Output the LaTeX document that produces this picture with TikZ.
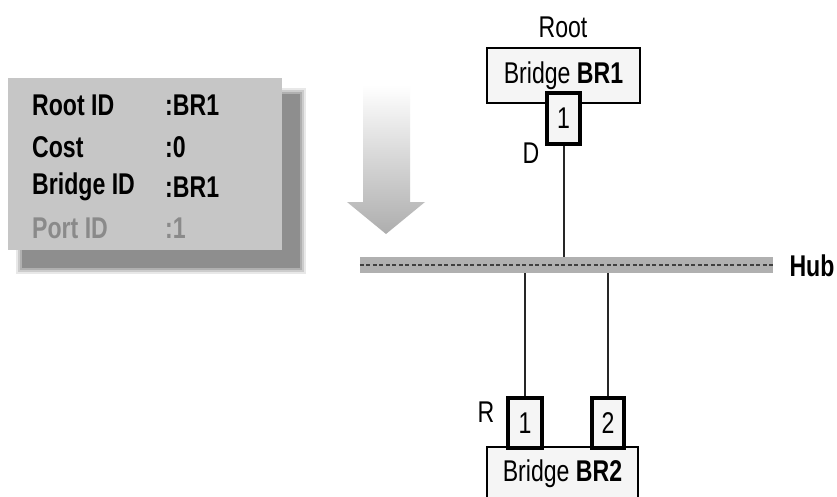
\documentclass[tikz,border=0pt]{standalone}
\usepackage{fontspec}
\setmainfont{Liberation Sans}[FakeStretch=0.77]
\definecolor{boxgray}{HTML}{C6C6C6}
\definecolor{shadowgray}{HTML}{8E8E8E}
\definecolor{paper}{HTML}{F5F5F5}
\definecolor{hubgray}{HTML}{B0B0B0}
\definecolor{hubdash}{HTML}{404040}
\definecolor{fadedtext}{HTML}{8A8A8A}
\begin{document}
\begin{tikzpicture}[x=1pt,y=-1pt,
  txt/.style={inner sep=0pt, font=\fontsize{30}{32}\selectfont},
  infotxt/.style={inner sep=0pt, anchor=west, font=\fontsize{30}{32}\selectfont\bfseries},
  bridgebox/.style={draw=black, line width=2.4pt, fill=paper, rectangle, inner sep=0pt,
    font=\fontsize{30}{32}\selectfont},
  portbox/.style={draw=black, line width=3.6pt, fill=paper, rectangle, inner sep=0pt,
    font=\fontsize{30}{32}\selectfont, minimum height=50},
  wire/.style={line width=2pt, draw=black!85}
]
\useasboundingbox (0,0) rectangle (837,497);
\fill[white] (0,0) rectangle (837,497);

% soft shadow of the info box
\foreach \d/\o in {6/0.2,4/0.3,2/0.45,0/1}{
  \fill[shadowgray, opacity=\o] (22-\d,94-\d) rectangle (300+\d,268+\d);
}
\node[rectangle, fill=boxgray, minimum width=274, minimum height=172, inner sep=0pt] (info) at (145,164) {};
\node[infotxt] (rootid) at (32,105) {Root ID};
\node[infotxt] (rootidv) at (165,105) {:BR1};
\node[infotxt] (cost) at (32,147) {Cost};
\node[infotxt] (costv) at (165,147) {:0};
\node[infotxt] (bridgeid) at (32,187) {Bridge ID};
\node[infotxt] (bridgeidv) at (165,187) {:BR1};
\node[infotxt, text=fadedtext] (portid) at (32,228) {Port ID};
\node[infotxt, text=fadedtext] (portidv) at (165,228) {:1};

% big shaded arrow
\shade[top color=white, bottom color=black!32]
  (363,85) -- (410,85) -- (410,202) -- (425,202) -- (386,234) -- (347,202) -- (363,202) -- cycle;

% root bridge
\node[txt] (rootlbl) at (563,27) {Root};
\node[bridgebox, minimum width=153, minimum height=55] (br1) at (563.5,75.5) {Bridge \textbf{BR1}};
\node[portbox, minimum width=33, minimum height=51] (p11) at (563.5,118.5) {1};
\node[txt] (dlbl) at (531,153) {D};

% hub
\node[rectangle, fill=hubgray, minimum width=413, minimum height=16, inner sep=0pt] (hub) at (566.5,265) {};
\draw[hubdash, line width=2.6pt, dash pattern=on 4pt off 2.5pt] (hub.west) -- (hub.east);
\node[txt, font=\fontsize{30}{32}\selectfont\bfseries] (hublbl) at (812,266) {Hub};

% second bridge
\node[bridgebox, minimum width=151, minimum height=54] (br2) at (562.5,474) {Bridge \textbf{BR2}};
\node[portbox, minimum width=34] (p21) at (525,423) {1};
\node[portbox, minimum width=32] (p22) at (608,423) {2};
\node[txt] (rlbl) at (486,412) {R};

% connectors
\draw[wire] (p11.south) -- (p11.south |- hub.north);
\draw[wire] (p21.north) -- (p21.north |- hub.south);
\draw[wire] (p22.north) -- (p22.north |- hub.south);
\end{tikzpicture}
\end{document}
